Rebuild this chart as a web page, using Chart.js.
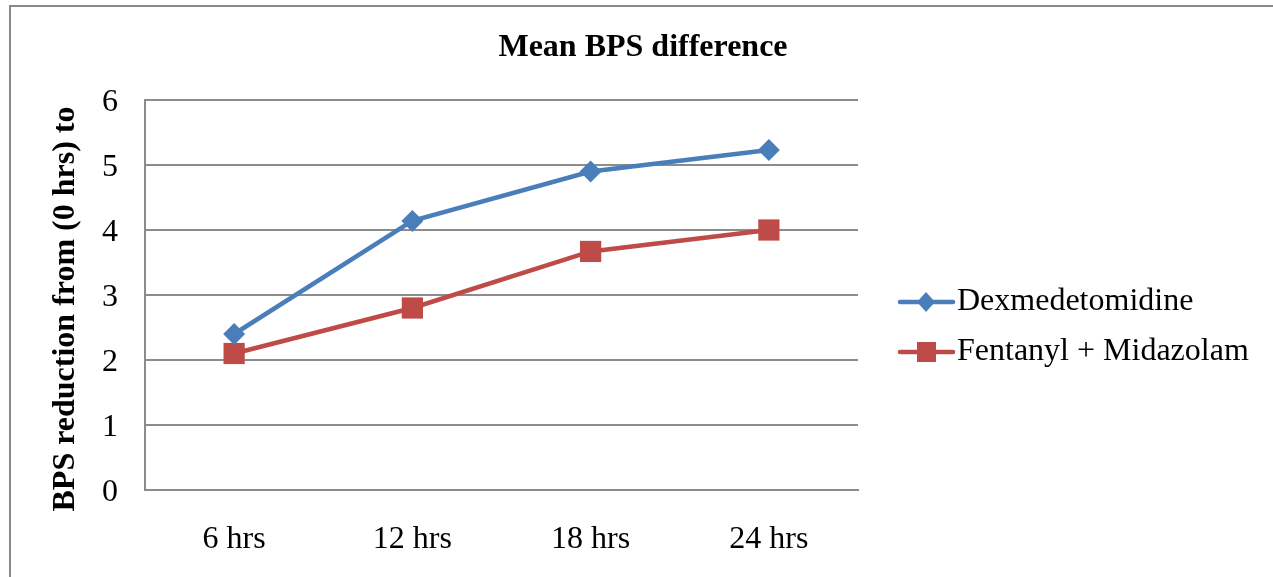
<!DOCTYPE html>
<html>
<head>
<meta charset="utf-8">
<script src="https://cdn.jsdelivr.net/npm/chart.js@4.4.1/dist/chart.umd.min.js"></script>
<style>
  html,body{margin:0;padding:0;background:#fff;}
  #wrap{width:1273px;height:577px;position:relative;}
</style>
</head>
<body>
<div id="wrap"><canvas id="c" width="1273" height="577"></canvas></div>
<script>
// data
const categories = ['6 hrs', '12 hrs', '18 hrs', '24 hrs'];
const dexValues  = [2.4, 4.14, 4.9, 5.23];
const fentValues = [2.1, 2.8, 3.67, 4.0];
const seriesNames = ['Dexmedetomidine', 'Fentanyl + Midazolam'];
const yTicks = [0, 1, 2, 3, 4, 5, 6];
const chartTitle = 'Mean BPS difference';
const yTitle = 'BPS reduction from (0 hrs) to';

const BLUE = '#4A7EBB', RED = '#BE4B48', GRID = '#8c8c8c';
const SERIF = '"Liberation Serif", "Times New Roman", serif';

// frame, titles, and line+marker legend
const extras = {
  id: 'extras',
  beforeDraw(chart){
    const ctx = chart.ctx;
    ctx.save();
    ctx.fillStyle = '#fff';
    ctx.fillRect(0,0,chart.width,chart.height);
    ctx.strokeStyle = '#8a8a8a';
    ctx.lineWidth = 2;
    ctx.strokeRect(10, 6, 1300, 620);
    ctx.restore();
  },
  afterDraw(chart){
    const ctx = chart.ctx;
    ctx.save();
    ctx.fillStyle = '#000';
    ctx.font = 'bold 32px ' + SERIF;
    ctx.textAlign = 'center';
    ctx.textBaseline = 'middle';
    ctx.fillText(chartTitle, 643, 48);

    ctx.save();
    ctx.translate(66, 309);
    ctx.rotate(-Math.PI/2);
    ctx.fillText(yTitle, 0, 0);
    ctx.restore();

    const rows = [302, 352];
    chart.data.datasets.forEach((ds, i) => {
      const y = rows[i];
      ctx.strokeStyle = ds.borderColor;
      ctx.lineWidth = 4.5;
      ctx.lineCap = 'round';
      ctx.beginPath();
      ctx.moveTo(900, y); ctx.lineTo(953, y); ctx.stroke();
      ctx.fillStyle = ds.backgroundColor;
      ctx.beginPath();
      if (ds.pointStyle === 'rectRot') {
        ctx.moveTo(926, y-10); ctx.lineTo(935, y); ctx.lineTo(926, y+10); ctx.lineTo(917, y);
      } else {
        ctx.rect(917, y-10, 19, 20);
      }
      ctx.closePath(); ctx.fill();
      ctx.fillStyle = '#000';
      ctx.font = '32px ' + SERIF;
      ctx.textAlign = 'left';
      ctx.textBaseline = 'middle';
      ctx.fillText(ds.label, 957, y);
    });
    ctx.restore();
  }
};

new Chart(document.getElementById('c').getContext('2d'), {
  type: 'line',
  data: {
    labels: categories,
    datasets: [
      {label: seriesNames[0], data: dexValues, borderColor: BLUE, backgroundColor: BLUE,
       borderWidth: 4.5, pointStyle: 'rectRot', pointRadius: 11, pointHoverRadius: 11, pointBorderWidth: 0, tension: 0},
      {label: seriesNames[1], data: fentValues, borderColor: RED, backgroundColor: RED,
       borderWidth: 4.5, pointStyle: 'rect', pointRadius: 15, pointHoverRadius: 15, pointBorderWidth: 0, tension: 0}
    ]
  },
  options: {
    responsive: false,
    animation: false,
    layout: {padding: {top: 100, right: 415, left: 0, bottom: 0}},
    plugins: {legend: {display: false}, title: {display: false}, tooltip: {enabled: false}},
    scales: {
      x: {
        offset: true,
        grid: {display: false, drawTicks: false},
        border: {display: true, color: GRID, width: 2},
        ticks: {color: '#000', font: {family: SERIF, size: 32}, padding: 30, maxRotation: 0},
        afterFit(s){ s.height = 87; }
      },
      y: {
        min: 0, max: 6,
        afterBuildTicks(s){ s.ticks = yTicks.map(v => ({value: v})); },
        grid: {color: GRID, lineWidth: 2, drawTicks: false},
        border: {display: true, color: GRID, width: 2},
        ticks: {color: '#000', font: {family: SERIF, size: 32}, padding: 27, labelOffset: 3},
        afterFit(s){ s.width = 145; }
      }
    }
  },
  plugins: [extras]
});
</script>
</body>
</html>
